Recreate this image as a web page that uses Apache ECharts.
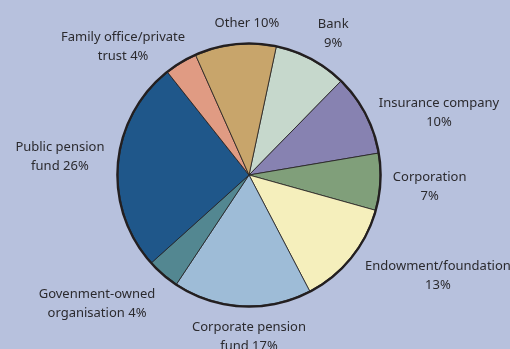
<!DOCTYPE html>
<html>
<head>
<meta charset="utf-8">
<script src="https://cdn.jsdelivr.net/npm/echarts@6/dist/echarts.min.js"></script>
<style>
  html, body { margin: 0; padding: 0; background: #b7c1dd; }
  #chart { width: 510px; height: 349px; }
</style>
</head>
<body>
<div id="chart"></div>
<script>
// Investor types, clockwise from just right of 12 o'clock
const categories = [
  'Bank', 'Insurance company', 'Corporation', 'Endowment/foundation',
  'Corporate pension fund', 'Govenment-owned organisation',
  'Public pension fund', 'Family office/private trust', 'Other'
];
const shares = [9, 10, 7, 13, 17, 4, 26, 4, 10];
const labelTemplates = [
  'Bank\n{c}%', 'Insurance company\n{c}%', 'Corporation\n{c}%',
  'Endowment/foundation\n{c}%', 'Corporate pension\nfund {c}%',
  'Govenment-owned\norganisation {c}%', 'Public pension\nfund {c}%',
  'Family office/private\ntrust {c}%', 'Other {c}%'
];
const sliceColors = [
  '#c6d8cc', '#8782b1', '#809f7a', '#f5efbc', '#9ebcd7',
  '#538791', '#1f578a', '#e09b83', '#c8a56b'
];

// Label placement: angular nudge from the slice mid-angle (deg) and distance from centre
const labelNudge = [2.7, 9.4, 0.6, -11, -3, 9, 0.8, -13.2, 5.2];
const labelDist = [164, 200, 181, 214, 161.5, 199, 190, 180, 152];

const cx = 249, cy = 175, R = 131;
const startAngle = 78; // echarts: degrees counter-clockwise from 3 o'clock

const total = shares.reduce((a, b) => a + b, 0);
const midAngles = [];
let acc = 90 - startAngle; // clockwise from 12 o'clock
shares.forEach(v => {
  const span = v / total * 360;
  midAngles.push(acc + span / 2);
  acc += span;
});

const chart = echarts.init(document.getElementById('chart'), null, { renderer: 'canvas' });
chart.setOption({
  backgroundColor: '#b7c1dd',
  animation: false,
  series: [
    {
      type: 'pie',
      center: [cx, cy],
      radius: [0, R],
      startAngle: startAngle,
      clockwise: true,
      avoidLabelOverlap: false,
      itemStyle: { borderColor: '#231f20', borderWidth: 0.8 },
      label: {
        show: true,
        position: 'outside',
        color: '#2b2a2e',
        fontFamily: 'Noto Sans',
        fontSize: 13,
        lineHeight: 19,
        align: 'center'
      },
      labelLine: { show: false },
      labelLayout: function (params) {
        const i = params.dataIndex;
        const th = (midAngles[i] + labelNudge[i]) * Math.PI / 180;
        return {
          x: cx + labelDist[i] * Math.sin(th),
          y: cy - labelDist[i] * Math.cos(th),
          align: 'center',
          verticalAlign: 'middle'
        };
      },
      emphasis: { disabled: true },
      data: categories.map((name, i) => ({
        name: name,
        value: shares[i],
        itemStyle: { color: sliceColors[i] },
        label: { formatter: labelTemplates[i] }
      }))
    },
    {
      // heavy outline around the pie
      type: 'pie',
      center: [cx, cy],
      radius: [R - 0.5, R + 1.8],
      silent: true,
      label: { show: false },
      labelLine: { show: false },
      itemStyle: { color: '#231f20' },
      data: [{ value: 1, name: 'outline' }]
    }
  ]
});
</script>
</body>
</html>
